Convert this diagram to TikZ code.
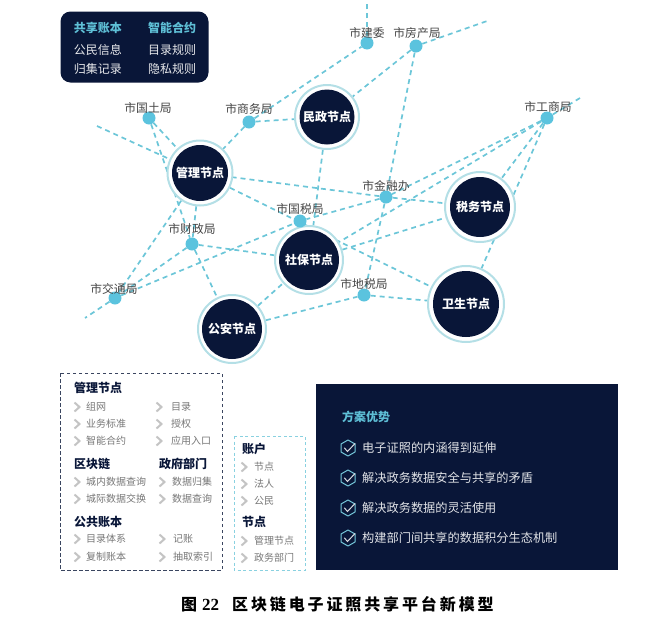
\documentclass[tikz,border=0pt]{standalone}
\usepackage{fontspec}
\setmainfont{Noto Sans CJK SC}
\newfontfamily\capnum{Liberation Serif}[BoldFont={Liberation Serif Bold}]
\usetikzlibrary{backgrounds}
\definecolor{navy}{HTML}{091638}
\definecolor{lnk}{HTML}{6CC6D8}
\definecolor{dotc}{HTML}{5BC3DE}
\definecolor{ringc}{HTML}{B4DFE6}
\definecolor{cyantxt}{HTML}{5EBFD6}
\definecolor{greytxt}{HTML}{777777}
\definecolor{labtxt}{HTML}{444444}
\definecolor{chevc}{HTML}{C4C4C4}
\newcommand{\fs}[1]{\fontsize{#1}{#1}\selectfont}
\tikzset{
  hub/.style 2 args={circle,inner sep=0pt,minimum size=#1*2pt,draw=ringc,line width=2pt,fill=white,
    text=white,font=\fs{12}\bfseries,
    path picture={\fill[navy](path picture bounding box.center) circle (#2pt);}},
  office/.style={circle,fill=dotc,inner sep=0pt,minimum size=13pt},
  officelab/.style={font=\fs{11.8},text=labtxt,inner sep=0pt},
  lk/.style={draw=lnk,line width=1.7pt,dash pattern=on 5pt off 4pt},
  head/.style={anchor=west,font=\fs{12}\bfseries,text=navy,inner sep=0pt},
  item/.style={anchor=west,font=\fs{10},text=greytxt,inner sep=0pt},
  boxtxt/.style={font=\fs{12},text=white!90!navy,inner sep=0pt},
  boxhead/.style={font=\fs{12}\bfseries,text=cyantxt,inner sep=0pt},
  adv/.style={anchor=west,font=\fs{12.2},text=white!88!navy,inner sep=0pt}
}
\newcommand{\chev}[2]{\draw[chevc,line width=2pt,line join=miter] (#1-2.5,#2-4.5) -- (#1+2.5,#2) -- (#1-2.5,#2+4.5);}
\newcommand{\shield}[1]{%
  \draw[cyantxt!85!white,line width=1pt,line join=round] (348,#1-8) -- (355,#1-4) -- (355,#1+4) -- (348,#1+8) -- (341,#1+4) -- (341,#1-4) -- cycle;
  \draw[white!85!navy,line width=1pt,line cap=round] (344.5,#1) -- (347.5,#1+3.5) -- (355,#1-4.5);}
\begin{document}
\begin{tikzpicture}[x=1pt,y=-1pt]
\useasboundingbox (0,0) rectangle (657,627);
% hubs
\node[hub={32}{27.5}] (minzheng) at (327,117) {民政节点};
\node[hub={32.5}{28}] (guanli) at (200,173) {管理节点};
\node[hub={35}{30}] (shuiwu) at (480,207) {税务节点};
\node[hub={34}{30}] (shebao) at (309,260) {社保节点};
\node[hub={34}{30}] (gongan) at (232,329) {公安节点};
\node[hub={38}{33}] (weisheng) at (466,304) {卫生节点};
% offices
\node[office] (guotu) at (149,118) {};
\node[office] (shangwu) at (249,122) {};
\node[office] (jianwei) at (367,43) {};
\node[office] (fangchan) at (416,46) {};
\node[office] (gongshang) at (547,118) {};
\node[office] (jinrong) at (386,197) {};
\node[office] (guoshui) at (300,221) {};
\node[office] (caizheng) at (192,244) {};
\node[office] (jiaotong) at (115,298) {};
\node[office] (dishui) at (364,295) {};
% office labels
\node[officelab] (l1) at (148,108) {市国土局};
\node[officelab] (l2) at (249,109) {市商务局};
\node[officelab] (l3) at (367,33) {市建委};
\node[officelab] (l4) at (417,33) {市房产局};
\node[officelab] (l5) at (548,107) {市工商局};
\node[officelab] (l6) at (386,186) {市金融办};
\node[officelab] (l7) at (300,209) {市国税局};
\node[officelab] (l8) at (192,229) {市财政局};
\node[officelab] (l9) at (114,289) {市交通局};
\node[officelab] (l10) at (364,284) {市地税局};
% free ends
\coordinate (e1) at (97,126);
\coordinate (e2) at (367,2);
\coordinate (e3) at (490,20);
\coordinate (e4) at (580,98);
\coordinate (e5) at (85,318);
\begin{scope}[on background layer]
\foreach \a/\b in {guotu/guanli,guotu/caizheng,e1/guanli,shangwu/guanli,shangwu/minzheng,shangwu/jianwei,
  jianwei/e2,fangchan/minzheng,fangchan/e3,fangchan/jinrong,gongshang/e4,gongshang/jinrong,gongshang/shebao,
  gongshang/shuiwu,gongshang/weisheng,jinrong/guanli,jinrong/shuiwu,jinrong/dishui,jinrong/guoshui,
  minzheng/shebao,guanli/weisheng,guanli/caizheng,guanli/jiaotong,caizheng/jiaotong,jiaotong/e5,
  caizheng/shebao,caizheng/gongan,jiaotong/guoshui,gongan/shebao,gongan/dishui,dishui/weisheng,shebao/shuiwu}
  {\path[lk] (\a) -- (\b);}
\end{scope}
% top left box
\node[fill=navy,rounded corners=10pt,minimum width=148pt,minimum height=71pt,inner sep=0pt] (sharebox) at (134.5,47) {};
\node[boxhead] (b1) at (98,28) {共享账本};
\node[boxhead] (b2) at (172,28) {智能合约};
\node[boxtxt] (b3) at (98,49.5) {公民信息};
\node[boxtxt] (b4) at (172,49.5) {目录规则};
\node[boxtxt] (b5) at (98,69) {归集记录};
\node[boxtxt] (b6) at (172,69) {隐私规则};
% left dashed box
\draw[navy!80!white,line width=1pt,dash pattern=on 3.5pt off 2.5pt] (60,373) rectangle (222,570);
\node[head] (h1) at (74,388) {管理节点};
\node[head] (h2) at (74,464) {区块链};
\node[head] (h3) at (159,464) {政府部门};
\node[head] (h4) at (74,522) {公共账本};
\foreach \cx/\tx/\y/\t in {77/86/407/组网,77/86/424/业务标准,77/86/441/智能合约,
  159/171/407/目录,159/171/424/授权,159/171/441/应用入口,
  77/86/482/城内数据查询,77/86/499/城际数据交换,
  162/172/482/数据归集,162/172/499/数据查询,
  77/86/539/目录体系,77/86/557/复制账本,
  162/173/539/记账,162/173/557/抽取索引,
  244/254/467/节点,244/254/484/法人,244/254/501/公民,
  244/254/541/管理节点,244/254/558/政务部门}
  {\chev{\cx}{\y}\node[item] at (\tx,\y) {\t};}
% right dashed box
\draw[lnk!80!white,line width=1pt,dash pattern=on 3pt off 2.5pt] (234,436) rectangle (305,570);
\node[head] (h5) at (242,449) {账户};
\node[head] (h6) at (242,522) {节点};
% panel
\fill[navy] (316,384) rectangle (618,570);
\node[anchor=west,font=\fs{12}\bfseries,text=cyantxt,inner sep=0pt] (advh) at (342,417) {方案优势};
\foreach \y/\t in {448/电子证照的内涵得到延伸,478/解决政务数据安全与共享的矛盾,508/解决政务数据的灵活使用,538/构建部门间共享的数据积分生态机制}
  {\shield{\y}\node[adv] at (362,\y) {\t};}
% caption
\node[anchor=west,font=\fs{16}\bfseries,text=black,inner sep=0pt] (cap) at (181,604) {图\hspace{5pt}{\capnum\fs{17}22}\hspace{13pt}{\addfontfeature{LetterSpace=18}区块链电子证照共享平台新模型}};
\end{tikzpicture}
\end{document}
